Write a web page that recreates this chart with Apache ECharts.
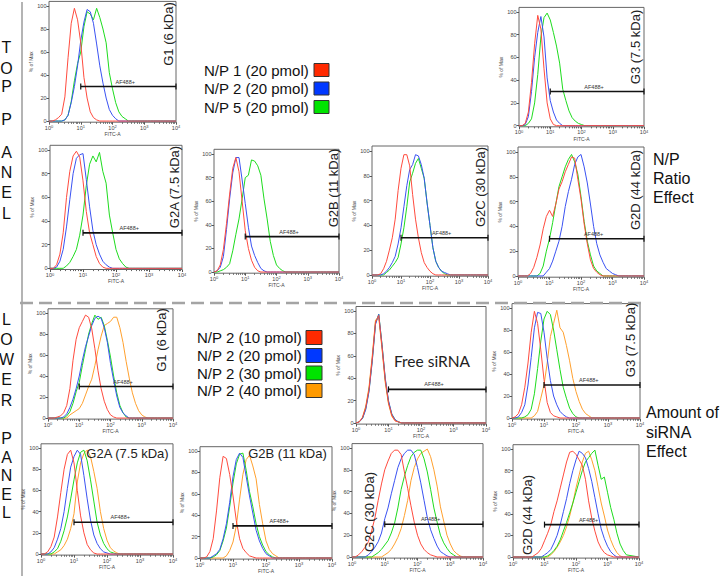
<!DOCTYPE html>
<html><head><meta charset="utf-8">
<script src="https://cdn.jsdelivr.net/npm/echarts@6/dist/echarts.min.js"></script>
<style>html,body{margin:0;padding:0;background:#fff}#c{width:720px;height:576px}</style>
</head><body><div id="c"></div>
<script>
// ---------- DATA ----------
// shared x positions (log10 of FITC-A)
const LX = [0,0.1,0.2,0.3,0.4,0.5,0.6,0.7,0.8,0.9, 1,1.1,1.2,1.3,1.4,1.5,1.6,1.7,1.8,1.9, 2,2.1,2.2,2.3,2.4,2.5,2.6,2.7,2.8,2.9, 3,3.1,3.2,3.3,3.4,3.5,3.6,4];
const xTickValues = [0,1,2,3,4];
const xTickExp = ['0','1','2','3','4'];
const yTickValues = [0,20,40,60,80,100];
const gateSpan = [1,4];
const gateLevel = 30;
const gateLabelAt = 2.4;
const topNames = ['N/P 1 (20 pmol)','N/P 2 (20 pmol)','N/P 5 (20 pmol)'];
const lowNames = ['N/P 2 (10 pmol)','N/P 2 (20 pmol)','N/P 2 (30 pmol)','N/P 2 (40 pmol)'];

// TOP panel
const tG1_red   = [0,0,1,3,6,21,55,85,98,88, 68,38,20,8,3,1,0,0,0,0, 0,0,0,0,0,0,0,0,0,0, 0,0,0,0,0,0,0,0];
const tG1_blue  = [0,0,0,0,0,1,5,16,30,48, 70,86,97,95,85,67,48,33,20,10, 5,2,0,0,0,0,0,0,0,0, 0,0,0,0,0,0,0,0];
const tG1_green = [0,0,0,0,0,1,5,17,35,50, 60,82,95,93,88,98,90,80,68,42, 28,16,8,4,2,0,0,0,0,0, 0,0,0,0,0,0,0,0];

const tG3_red   = [0,0,2,12,38,72,97,85,50,20, 6,1,0,0,0,0,0,0,0,0, 0,0,0,0,0,0,0,0,0,0, 0,0,0,0,0,0,0,0];
const tG3_blue  = [0,0,1,8,30,60,82,96,78,42, 22,12,5,2,0,0,0,0,0,0, 0,0,0,0,0,0,0,0,0,0, 0,0,0,0,0,0,0,0];
const tG3_green = [0,0,0,2,6,20,45,78,95,99, 93,82,70,55,32,22,13,7,4,2, 1,0,0,0,0,0,0,0,0,0, 0,0,0,0,0,0,0,0];

const tG2A_red   = [0,0,3,12,30,60,82,95,99,94, 74,48,30,20,10,4,1,0,0,0, 0,0,0,0,0,0,0,0,0,0, 0,0,0,0,0,0,0,0];
const tG2A_blue  = [0,0,1,6,16,35,58,80,93,96, 97,75,52,32,20,12,6,3,1,0, 0,0,0,0,0,0,0,0,0,0, 0,0,0,0,0,0,0,0];
const tG2A_green = [0,0,0,0,0,2,5,10,16,28, 45,70,88,95,90,98,82,72,45,30, 16,8,4,1,0,0,0,0,0,0, 0,0,0,0,0,0,0,0];

const tG2B_red   = [0,1,6,19,41,66,88,97,85,60, 35,20,10,4,1,0,0,0,0,0, 0,0,0,0,0,0,0,0,0,0, 0,0,0,0,0,0,0,0];
const tG2B_blue  = [0,1,4,13,36,62,84,97,97,78, 58,38,22,14,8,3,1,0,0,0, 0,0,0,0,0,0,0,0,0,0, 0,0,0,0,0,0,0,0];
const tG2B_green = [0,0,1,2,4,7,18,32,45,62, 80,82,95,94,90,82,62,45,26,14, 6,3,1,0,0,0,0,0,0,0, 0,0,0,0,0,0,0,0];

const tG2C_red   = [0,0,0,1,5,11,20,30,45,68, 86,97,97,88,65,45,30,18,10,6, 3,1,0,0,0,0,0,0,0,0, 0,0,0,0,0,0,0,0];
const tG2C_blue  = [0,0,0,0,1,3,6,10,15,25, 38,55,72,85,89,97,96,89,78,58, 40,22,11,6,3,2,1,0,0,0, 0,0,0,0,0,0,0,0];
const tG2C_green = [0,0,0,0,0,2,4,7,10,14, 25,38,55,75,82,90,94,86,78,58, 40,22,11,6,3,1,0,0,0,0, 0,0,0,0,0,0,0,0];

const tG2D_red   = [0,0,0,0,2,7,15,25,38,48, 53,48,58,70,76,84,90,96,95,78, 62,42,26,13,6,3,1,0,0,0, 0,0,0,0,0,0,0,0];
const tG2D_blue  = [0,0,0,0,0,0,0,0,0,3, 6,12,20,28,40,56,68,78,90,96, 98,88,75,58,40,26,17,11,6,4, 2,1,0,0,0,0,0,0];
const tG2D_green = [0,0,0,0,0,0,0,2,8,20, 30,43,58,72,80,88,94,98,92,82, 64,44,28,17,8,4,2,0,0,0, 0,0,0,0,0,0,0,0];

// LOWER panel
const lG1_red    = [0,0,0,1,2,5,12,28,55,75, 86,92,98,96,85,66,45,28,16,8, 3,1,0,0,0,0,0,0,0,0, 0,0,0,0,0,0,0,0];
const lG1_blue   = [0,0,0,0,0,1,4,10,18,28, 40,55,68,78,88,95,97,95,86,72, 52,36,21,10,5,2,0,0,0,0, 0,0,0,0,0,0,0,0];
const lG1_green  = [0,0,0,0,0,0,2,6,14,25, 34,50,65,80,90,98,94,96,88,74, 58,40,24,12,5,1,0,0,0,0, 0,0,0,0,0,0,0,0];
const lG1_orange = [0,0,0,0,0,0,0,3,5,7, 9,14,22,30,37,50,65,78,88,90, 92,96,96,86,72,54,38,24,14,7, 3,1,0,0,0,0,0,0];

const fr_red    = [0,1,5,14,30,58,90,96,68,38, 18,7,2,1,0,0,0,0,0,0, 0,0,0,0,0,0,0,0,0,0, 0,0,0,0,0,0,0,0];
const fr_blue   = [0,1,4,12,28,55,88,97,70,40, 20,8,3,1,0,0,0,0,0,0, 0,0,0,0,0,0,0,0,0,0, 0,0,0,0,0,0,0,0];
const fr_green  = [0,1,4,13,29,56,89,97,70,39, 19,8,3,1,0,0,0,0,0,0, 0,0,0,0,0,0,0,0,0,0, 0,0,0,0,0,0,0,0];
const fr_orange = [0,1,5,15,32,60,92,94,66,36, 17,6,2,1,0,0,0,0,0,0, 0,0,0,0,0,0,0,0,0,0, 0,0,0,0,0,0,0,0];

const lG3_red    = [0,1,4,12,28,50,78,97,86,62, 35,14,5,2,1,0,0,0,0,0, 0,0,0,0,0,0,0,0,0,0, 0,0,0,0,0,0,0,0];
const lG3_blue   = [0,0,1,5,12,30,55,82,96,95, 78,54,34,20,12,6,3,1,0,0, 0,0,0,0,0,0,0,0,0,0, 0,0,0,0,0,0,0,0];
const lG3_green  = [0,0,0,0,1,3,8,22,45,70, 90,97,94,80,62,44,28,18,9,4, 1,0,0,0,0,0,0,0,0,0, 0,0,0,0,0,0,0,0];
const lG3_orange = [0,0,0,0,0,0,0,2,6,18, 30,50,74,86,98,82,78,66,52,36, 24,15,8,4,2,0,0,0,0,0, 0,0,0,0,0,0,0,0];

const lG2A_red    = [0,0,2,7,16,35,58,80,94,98, 86,60,36,20,9,4,1,0,0,0, 0,0,0,0,0,0,0,0,0,0, 0,0,0,0,0,0,0,0];
const lG2A_blue   = [0,0,0,2,6,14,24,40,62,82, 92,98,94,74,52,32,18,10,5,2, 1,0,0,0,0,0,0,0,0,0, 0,0,0,0,0,0,0,0];
const lG2A_green  = [0,0,0,0,2,5,12,22,35,52, 70,86,96,98,88,70,50,30,18,10, 5,2,1,0,0,0,0,0,0,0, 0,0,0,0,0,0,0,0];
const lG2A_orange = [0,0,0,0,0,2,4,8,14,24, 38,68,86,95,98,92,78,62,40,24, 13,6,3,1,0,0,0,0,0,0, 0,0,0,0,0,0,0,0];

const lG2B_red    = [0,0,1,6,18,44,75,95,93,78, 58,35,18,9,5,2,1,0,0,0, 0,0,0,0,0,0,0,0,0,0, 0,0,0,0,0,0,0,0];
const lG2B_blue   = [0,0,0,0,2,4,8,18,32,52, 76,92,98,94,76,58,42,26,16,9, 4,2,0,0,0,0,0,0,0,0, 0,0,0,0,0,0,0,0];
const lG2B_green  = [0,0,0,0,1,3,7,16,28,48, 70,88,97,98,82,62,48,32,20,12, 6,3,1,0,0,0,0,0,0,0, 0,0,0,0,0,0,0,0];
const lG2B_orange = [0,0,0,0,0,0,0,0,2,7, 15,30,55,78,92,96,86,74,50,32, 16,8,4,2,0,0,0,0,0,0, 0,0,0,0,0,0,0,0];

const lG2C_red    = [0,0,2,5,9,14,24,36,52,67, 80,88,95,98,98,94,78,63,47,32, 20,12,7,4,2,1,0,0,0,0, 0,0,0,0,0,0,0,0];
const lG2C_blue   = [0,0,0,0,0,2,5,9,14,22, 35,45,58,70,82,90,95,98,98,94, 82,68,52,36,25,17,10,5,3,1, 0,0,0,0,0,0,0,0];
const lG2C_green  = [0,0,0,0,0,0,0,2,4,7, 11,15,22,31,45,62,74,84,92,96, 98,98,90,78,62,45,32,20,13,8, 4,2,0,0,0,0,0,0];
const lG2C_orange = [0,0,0,0,0,0,0,0,0,0, 2,4,7,12,18,26,38,52,70,82, 90,95,97,99,92,80,65,46,33,20, 12,6,3,1,0,0,0,0];

const lG2D_red    = [0,0,0,0,0,0,0,2,4,8, 15,22,30,42,52,64,76,88,97,98, 95,90,85,72,52,36,24,14,8,4, 2,1,0,0,0,0,0,0];
const lG2D_blue   = [0,0,0,0,0,0,0,0,0,0, 2,4,7,13,20,30,42,54,68,80, 90,98,96,92,82,70,55,40,26,17, 10,5,2,0,0,0,0,0];
const lG2D_green  = [0,0,0,0,0,0,0,0,0,0, 0,1,3,6,10,16,24,32,41,50, 60,70,80,88,92,96,99,85,72,74, 60,46,35,22,12,6,2,0];
const lG2D_orange = [0,0,0,0,0,0,0,0,0,0, 0,0,2,5,9,14,20,28,38,50, 64,76,88,96,98,90,80,65,50,38, 25,16,9,4,1,0,0,0];

// ---------- STYLE / LAYOUT ----------
const C_RED = '#ff4b3e', C_BLUE = '#3a52f2', C_GREEN = '#1edc1e', C_ORANGE = '#ffa02e';
const LEG_RED = '#ff2a00', LEG_BLUE = '#0038ff', LEG_GREEN = '#00e400', LEG_ORANGE = '#ff9a00';
const FONT = '"Liberation Sans", Arial, sans-serif';

const panels = [
  {rect:[49,1.4,127,120.8],  curves:[tG1_red,tG1_blue,tG1_green], names:topNames},
  {rect:[519,7.4,125,119.4], curves:[tG3_red,tG3_blue,tG3_green], names:topNames},
  {rect:[50,145.3,132,124.2], curves:[tG2A_red,tG2A_blue,tG2A_green], names:topNames},
  {rect:[214,149.3,125,123.9], curves:[tG2B_red,tG2B_blue,tG2B_green], names:topNames},
  {rect:[372,146,116,130.2], curves:[tG2C_red,tG2C_blue,tG2C_green], names:topNames},
  {rect:[518,147,126,130.2], curves:[tG2D_red,tG2D_blue,tG2D_green], names:topNames},
  {rect:[48,308.8,125,110.3], curves:[lG1_red,lG1_blue,lG1_green,lG1_orange], names:lowNames},
  {rect:[356,306.5,130,117.6], curves:[fr_red,fr_blue,fr_green,fr_orange], names:lowNames},
  {rect:[512,303.6,128,115.5], curves:[lG3_red,lG3_blue,lG3_green,lG3_orange], names:lowNames},
  {rect:[41,443.8,132,111.3], curves:[lG2A_red,lG2A_blue,lG2A_green,lG2A_orange], names:lowNames},
  {rect:[200,446.7,132,112.4], curves:[lG2B_red,lG2B_blue,lG2B_green,lG2B_orange], names:lowNames},
  {rect:[352,443.6,131,114.5], curves:[lG2C_red,lG2C_blue,lG2C_green,lG2C_orange], names:lowNames},
  {rect:[513,444.7,126,113.4], curves:[lG2D_red,lG2D_blue,lG2D_green,lG2D_orange], names:lowNames}
];
const curveColors = [C_RED, C_BLUE, C_GREEN, C_ORANGE];

const minorTicks = [];
for (let k = 0; k < 4; k++) for (let m = 2; m <= 9; m++) minorTicks.push(k + Math.log10(m));

function gateRender(params, api) {
  const a = api.coord([api.value(0), api.value(2)]);
  const b = api.coord([api.value(1), api.value(2)]);
  const c = api.coord([api.value(3), api.value(2)]);
  return {type:'group', children:[
    {type:'line', shape:{x1:a[0],y1:a[1],x2:b[0],y2:b[1]}, style:{stroke:'#111', lineWidth:1.6}},
    {type:'line', shape:{x1:a[0],y1:a[1]-3,x2:a[0],y2:a[1]+3}, style:{stroke:'#111', lineWidth:1.2}},
    {type:'line', shape:{x1:b[0],y1:b[1]-3,x2:b[0],y2:b[1]+3}, style:{stroke:'#111', lineWidth:1.2}},
    {type:'text', x:c[0], y:c[1]-2, style:{text:'AF488+', fontSize:5.5, fontFamily:FONT, fill:'#333', textAlign:'center', align:'center', textVerticalAlign:'bottom', verticalAlign:'bottom'}}
  ]};
}

const grids = [], xAxes = [], yAxes = [], series = [];
panels.forEach((p, i) => {
  const [l, t, w, h] = p.rect;
  grids.push({left:l, top:t, width:w, height:h, show:true, borderColor:'#666', borderWidth:1,
    backgroundColor:'rgba(0,0,0,0)', containLabel:false, outerBoundsMode:'none'});
  xAxes.push({gridIndex:i, type:'value', min:0, max:4, position:'bottom',
    name:'FITC-A', nameLocation:'middle', nameGap:9, nameTextStyle:{fontSize:5, color:'#444', fontFamily:FONT},
    axisLine:{show:false, onZero:false},
    axisTick:{show:true, length:2.5, lineStyle:{color:'#555'}, customValues:xTickValues},
    axisLabel:{customValues:xTickValues, margin:2.5,
      formatter:(v) => '{b|10}{s|' + xTickExp[Math.round(v)] + '}',
      rich:{b:{fontSize:5.5, color:'#444', fontFamily:FONT}, s:{fontSize:4, color:'#444', fontFamily:FONT, verticalAlign:'top'}}},
    splitLine:{show:false}});
  xAxes.push({gridIndex:i, type:'value', min:0, max:4, position:'bottom',
    axisLine:{show:false, onZero:false},
    axisTick:{show:true, length:1.6, lineStyle:{color:'#666'}, customValues:minorTicks},
    axisLabel:{show:false}, splitLine:{show:false}});
  yAxes.push({gridIndex:i, type:'value', min:-1, max:104,
    name:'% of Max', nameLocation:'middle', nameGap:15, nameTextStyle:{fontSize:5, color:'#444', fontFamily:FONT},
    axisLine:{show:false, onZero:false},
    axisTick:{show:true, length:2.5, lineStyle:{color:'#555'}, customValues:yTickValues},
    axisLabel:{customValues:yTickValues, fontSize:5.5, color:'#444', margin:2.5, fontFamily:FONT},
    splitLine:{show:false}});
  for (let k = p.curves.length - 1; k >= 0; k--) {
    const arr = p.curves[k];
    series.push({type:'line', name:p.names[k], xAxisIndex:2*i, yAxisIndex:i,
      data: LX.map((x, j) => [x, arr[j]]),
      showSymbol:false, symbol:'none', silent:true, animation:false, z:2,
      lineStyle:{width:1, color:curveColors[k]}, itemStyle:{color:curveColors[k]}});
  }
  series.push({type:'custom', xAxisIndex:2*i, yAxisIndex:i, silent:true, animation:false, z:4,
    data:[[gateSpan[0], gateSpan[1], gateLevel, gateLabelAt]], encode:{x:[0,1,3], y:2},
    renderItem:gateRender});
});

// ---------- ANNOTATIONS ----------
const graphics = [];
function T(x, y, text, size, opts) {
  opts = opts || {};
  graphics.push({type:'text', x:x, y:y, rotation:opts.rot || 0, silent:true, z:10,
    style:{text:text, fontSize:size, fontFamily:opts.family || FONT, fill:opts.color || '#111',
      textAlign:opts.align || 'center', align:opts.align || 'center',
      textVerticalAlign:'middle', verticalAlign:'middle'}});
}
// frame lines
graphics.push({type:'line', silent:true, shape:{x1:22,y1:2,x2:22,y2:576}, style:{stroke:'#b4b4b4', lineWidth:2}});
graphics.push({type:'line', silent:true, shape:{x1:20,y1:303,x2:645,y2:303}, style:{stroke:'#a4a4a4', lineWidth:2.5, lineDash:[13,6]}});
// side letters
[['T',47.5],['O',68],['P',86],['P',119],['A',152.5],['N',172],['E',192],['L',213],
 ['L',319],['O',339],['W',359],['E',379],['R',400],['P',438],['A',457],['N',475],['E',494],['L',512]]
  .forEach(([ch, y]) => T(6.5, y, ch, 16));
// right notes
T(653, 159, 'N/P', 16, {align:'left'}); T(653, 178, 'Ratio', 16, {align:'left'}); T(653, 197, 'Effect', 16, {align:'left'});
T(646, 412, 'Amount of', 16, {align:'left'}); T(646, 432, 'siRNA', 16, {align:'left'}); T(646, 451, 'Effect', 16, {align:'left'});
// panel titles
const R = Math.PI / 2;
T(168, 34, 'G1 (6 kDa)', 13, {rot:R, color:'#222'});
T(635, 47, 'G3 (7.5 kDa)', 13, {rot:R, color:'#222'});
T(174, 187, 'G2A (7.5 kDa)', 13, {rot:R, color:'#222'});
T(333, 188, 'G2B (11 kDa)', 13, {rot:R, color:'#222'});
T(480, 187, 'G2C (30 kDa)', 13, {rot:R, color:'#222'});
T(635, 190, 'G2D (44 kDa)', 13, {rot:R, color:'#222'});
T(161, 340, 'G1 (6 kDa)', 13, {rot:R, color:'#222'});
T(630, 340, 'G3 (7.5 kDa)', 13, {rot:R, color:'#222'});
T(127.5, 453, 'G2A (7.5 kDa)', 13, {color:'#222'});
T(287.5, 453, 'G2B (11 kDa)', 13, {color:'#222'});
T(369, 512, 'G2C (30 kDa)', 13, {rot:R, color:'#222'});
T(527, 515, 'G2D (44 kDa)', 13, {rot:R, color:'#222'});
T(432, 361, 'Free siRNA', 15.5, {family:'Lato, "Open Sans", sans-serif', color:'#222'});
// legends
const topLeg = [LEG_RED, LEG_BLUE, LEG_GREEN];
[70, 88.5, 107].forEach((y, k) => {
  T(204, y, topNames[k], 15, {align:'left'});
  graphics.push({type:'rect', silent:true, shape:{x:314, y:y-6.5, width:15, height:13}, style:{fill:topLeg[k], stroke:'#333', lineWidth:1}});
});
const lowLeg = [LEG_RED, LEG_BLUE, LEG_GREEN, LEG_ORANGE];
[337.5, 355.5, 373, 390.5].forEach((y, k) => {
  T(197, y, lowNames[k], 15, {align:'left'});
  graphics.push({type:'rect', silent:true, shape:{x:306, y:y-7, width:16, height:14}, style:{fill:lowLeg[k], stroke:'#333', lineWidth:1}});
});

const chart = echarts.init(document.getElementById('c'), null, {renderer:'svg', width:720, height:576});
chart.setOption({
  backgroundColor:'#fff',
  animation:false,
  textStyle:{fontFamily:FONT},
  grid:grids, xAxis:xAxes, yAxis:yAxes, series:series,
  graphic:{elements:graphics}
});
</script></body></html>
